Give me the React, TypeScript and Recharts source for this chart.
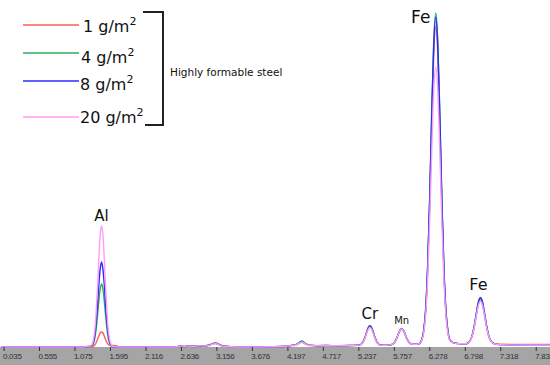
import { LineChart, Line, XAxis, YAxis, ReferenceDot, Label } from 'recharts';

const CHART_W = 550;
const CHART_H = 365;
const AXIS_H = 18;

// energy axis (keV)
const energies = [
  0.0, 0.5, 1.0, 1.2, 1.265, 1.305, 1.325, 1.345, 1.365, 1.385, 1.405, 1.425, 1.445, 1.465,
  1.485, 1.505, 1.525, 1.545, 1.565, 1.585, 1.605, 1.625, 1.68, 1.72, 2.0, 2.3, 2.55, 2.62,
  2.68, 2.75, 2.82, 2.9, 2.96, 3.0, 3.05, 3.1, 3.13, 3.16, 3.2, 3.25, 3.35, 3.6, 4.0, 4.2,
  4.25, 4.3, 4.35, 4.4, 4.45, 4.5, 4.55, 4.65, 4.78, 4.9, 5.05, 5.15, 5.25, 5.275, 5.3,
  5.325, 5.35, 5.375, 5.4, 5.425, 5.45, 5.475, 5.5, 5.525, 5.55, 5.6, 5.66, 5.715, 5.74,
  5.765, 5.79, 5.815, 5.84, 5.865, 5.89, 5.915, 5.94, 5.965, 5.99, 6.015, 6.06, 6.11, 6.155,
  6.185, 6.215, 6.245, 6.275, 6.305, 6.335, 6.365, 6.395, 6.425, 6.455, 6.485, 6.515, 6.545,
  6.575, 6.62, 6.7, 6.78, 6.81, 6.84, 6.87, 6.9, 6.93, 6.96, 6.99, 7.02, 7.05, 7.08, 7.11,
  7.14, 7.17, 7.2, 7.23, 7.3, 7.5, 7.75, 8.04,
];

const coat1 = [
  0, 0, 0, 0, 0.2, 0.3, 0.4, 0.8, 2, 4.2, 7.3, 11, 14, 15,
  14, 11, 7.3, 4.4, 2.6, 1.8, 1.6, 1.5, 1.2, 0.2, 0, 0, 0, 0.8,
  0.3, 0.6, 0.4, 0.8, 1, 1.3, 2.2, 3.6, 4.2, 3.8, 2.2, 1, 0.4, 0, 0.2, 0.8,
  1.4, 1.8, 3.4, 5, 3.4, 1.8, 1.5, 1.2, 1.6, 1.0, 1.3, 1.5, 2, 3, 5.2,
  9.2, 14.4, 19.1, 21, 19.1, 14.4, 9.2, 5.2, 3, 2, 1.6, 1.7, 2.4, 3.2,
  5.1, 8.3, 12.6, 16.4, 18, 16.5, 12.8, 8.5, 5.4, 3.6, 3, 2.8, 3, 6.5,
  14.4, 34, 75, 141, 222, 292, 320, 292, 222, 141, 75, 34, 14.4,
  6.5, 4.2, 3.4, 3.3, 3.3, 4.1, 6.3, 11.4, 20.3, 32.1, 42.7, 47, 42.7, 32.1, 20.3,
  11.4, 6.3, 4.1, 3.3, 2.8, 2.6, 2.6, 2.5,
];

const coat4 = [
  0, 0, 0, 0, 0.3, 0.5, 1.3, 3.5, 8.5, 17.5, 31, 46, 58, 63,
  58, 46, 31, 17.5, 8.5, 3.5, 1.3, 0.4, 0, 0, 0, 0, 0, 0.5,
  0.4, 1, 0.5, 0.7, 1, 1.2, 2, 3.3, 3.8, 3.4, 2, 1, 0.3, 0, 0.2, 1,
  1.6, 2, 3.9, 6, 3.9, 2, 1.6, 1.3, 1.2, 1.1, 1.4, 1.5, 2, 3, 5.3,
  9.4, 14.7, 19.5, 21.5, 19.5, 14.7, 9.4, 5.3, 3, 2, 1.6, 1.7, 2.4, 3.2,
  5.2, 8.5, 12.9, 16.9, 18.5, 17, 13.1, 8.7, 5.5, 3.7, 3, 2.8, 3, 6.6,
  15, 36, 78.5, 147, 232, 305, 334, 305, 232, 147, 78.5, 36, 15,
  6.6, 4.3, 3.4, 3.3, 3.3, 4.1, 6.5, 11.9, 21.3, 33.7, 45, 49.5, 45, 33.7, 21.3,
  11.9, 6.5, 4.1, 3.2, 2.4, 2.2, 2.2, 2.1,
];

const coat8 = [
  0, 0, 0, 0, 0.6, 0.8, 1.7, 4.8, 11.5, 24, 41, 62, 78, 85,
  78, 62, 41, 24, 11.5, 4.8, 1.7, 0.5, 0.2, 0, 0, 0, 0, 1.2,
  0.5, 1.3, 0.8, 1, 1, 1.2, 2, 3.2, 3.6, 3.2, 2, 0.9, 0.4, 0, 0.3, 1,
  1.6, 1.8, 3.4, 5, 3.4, 1.8, 1.6, 1.4, 1.5, 1.2, 1.5, 1.6, 2, 2.9, 5.1,
  9, 14.1, 18.6, 20.5, 18.6, 14.1, 9, 5.1, 2.9, 2, 1.6, 1.8, 2.4, 3.2,
  5.1, 8.3, 12.6, 16.4, 18, 16.5, 12.8, 8.5, 5.4, 3.6, 3, 2.8, 3, 6.6,
  15, 35, 77.5, 145, 229, 301, 330, 301, 229, 145, 77.5, 35, 15,
  6.6, 4.3, 3.4, 3.3, 3.3, 4.1, 6.5, 11.8, 21.1, 33.4, 44.5, 49, 44.5, 33.4, 21.1,
  11.8, 6.5, 4.1, 3.2, 2.4, 2.2, 2.1, 2.1,
];

const coat20 = [
  0, 0, 0, 0, 0.8, 1.0, 2.4, 7, 16, 34, 59, 88, 112, 121,
  112, 88, 59, 34, 16, 7, 2.4, 0.7, 0.2, 0, 0, 0, 0, 1,
  0.8, 1, 0.6, 1.2, 1, 1.1, 1.8, 3, 3.4, 3, 1.8, 0.9, 0.3, 0, 0.2, 1,
  1.5, 1.8, 3.3, 4.8, 3.3, 1.8, 1.5, 1.6, 1.4, 1.3, 1.6, 1.7, 1.9, 2.9, 4.9,
  8.6, 13.4, 17.7, 19.5, 17.7, 13.4, 8.6, 4.9, 2.9, 1.9, 1.6, 1.8, 2.4, 3.2,
  5.1, 8.3, 12.6, 16.4, 18, 16.5, 12.8, 8.5, 5.4, 3.6, 3, 2.8, 3, 6,
  13, 30.4, 66, 123.5, 194, 256, 280, 256, 194, 123.5, 66, 30.4, 13,
  6, 4.2, 3.4, 3.3, 3.3, 4.0, 6.2, 11.2, 19.9, 31.4, 41.8, 46, 41.8, 31.4, 19.9,
  11.2, 6.2, 4.0, 3.2, 2.3, 2.1, 2.0, 2.0,
];

const tickValues = [0.035, 0.555, 1.075, 1.595, 2.116, 2.636, 3.156, 3.676, 4.197, 4.717, 5.237, 5.757, 6.278, 6.798, 7.318, 7.838];

const seriesInfo = [
  { key: 'c1', label: '1', color: '#ff5b5b' },
  { key: 'c4', label: '4', color: '#2eaa5c' },
  { key: 'c8', label: '8', color: '#2b2bff' },
  { key: 'c20', label: '20', color: '#ff9cf5' },
];

const peakLabels = [
  { text: 'Al', keV: 1.465, level: 121, dx: 0, dy: -5, size: 15 },
  { text: 'Cr', keV: 5.4, level: 21.5, dx: 0, dy: -7, size: 15 },
  { text: 'Mn', keV: 5.865, level: 18, dx: 0, dy: -5, size: 10 },
  { text: 'Fe', keV: 6.365, level: 334, dx: -15, dy: 10, size: 17 },
  { text: 'Fe', keV: 7.02, level: 49.5, dx: -2, dy: -8, size: 16 },
];

const groupNote = 'Highly formable steel';

const rows = energies.map((e, i) => ({
  keV: e,
  c1: coat1[i],
  c4: coat4[i],
  c8: coat8[i],
  c20: coat20[i],
}));

const FONT = '"DejaVu Sans", Verdana, sans-serif';

function EnergyTick(props: any) {
  const { x, payload } = props;
  const top = CHART_H - AXIS_H;
  return (
    <g>
      <line x1={x} x2={x} y1={top} y2={top + 4} stroke="#333" strokeWidth={1} />
      <text
        x={x - 1}
        y={top + 12}
        textAnchor="start"
        fontSize={8}
        letterSpacing={-0.3}
        fontFamily='"Liberation Sans", Arial, sans-serif'
        fill="#333"
      >
        {payload.value.toFixed(3)}
      </text>
    </g>
  );
}

// legend positions: line y, text baseline, text x
const legendRows = [
  { lineY: 25, textY: 32, textX: 83 },
  { lineY: 53, textY: 63, textX: 81 },
  { lineY: 81, textY: 90, textX: 80 },
  { lineY: 117, textY: 123, textX: 80 },
];

function CoatingLegend() {
  return (
    <svg width={300} height={135} style={{ display: 'block' }}>
      {seriesInfo.map((s, i) => {
        const r = legendRows[i];
        return (
          <g key={s.key}>
            <line x1={23} x2={79} y1={r.lineY} y2={r.lineY} stroke={s.color} strokeWidth={1.3} />
            <text x={r.textX} y={r.textY} fontSize={16} fontFamily={FONT} fill="#111">
              {s.label} g/m
              <tspan dy={-7} fontSize={11}>2</tspan>
            </text>
          </g>
        );
      })}
      <polyline points="143,12 163,12 163,125 145,125" fill="none" stroke="#222" strokeWidth={2} />
      <text x={170} y={76} fontSize={10.5} fontFamily={FONT} fill="#111">
        {groupNote}
      </text>
    </svg>
  );
}

export default function App() {
  return (
    <div style={{ position: 'relative', width: CHART_W, height: CHART_H, background: '#fff', overflow: 'hidden' }}>
      <style>{'body{margin:0}'}</style>
      <div
        style={{
          position: 'absolute',
          left: 0,
          top: CHART_H - AXIS_H,
          width: CHART_W,
          height: AXIS_H,
          background: '#a5a5a5',
        }}
      />
      <div style={{ position: 'absolute', left: 0, top: 0 }}>
        <LineChart width={CHART_W} height={CHART_H} data={rows} margin={{ top: 0, right: 0, bottom: 0, left: 0 }}>
          <XAxis
            dataKey="keV"
            type="number"
            domain={[-0.024, 8.04]}
            ticks={tickValues}
            height={AXIS_H}
            axisLine={false}
            tickLine={false}
            tick={<EnergyTick />}
            interval={0}
          />
          <YAxis hide domain={[0, CHART_H - AXIS_H]} />
          {seriesInfo.map((s) => (
            <Line
              key={s.key}
              dataKey={s.key}
              type="monotone"
              stroke={s.color}
              strokeWidth={1.4}
              dot={false}
              activeDot={false}
              isAnimationActive={false}
            />
          ))}
          {peakLabels.map((p, i) => (
            <ReferenceDot key={i} x={p.keV} y={p.level} r={1} fill="none" stroke="none">
              <Label
                content={(lp: any) => {
                  const vb = lp.viewBox || {};
                  const cx = (vb.x ?? 0) + (vb.width ?? 0) / 2;
                  const cy = (vb.y ?? 0) + (vb.height ?? 0) / 2;
                  return (
                    <text
                      x={cx + p.dx}
                      y={cy + p.dy}
                      textAnchor="middle"
                      fontSize={p.size}
                      fontFamily={FONT}
                      fill="#111"
                    >
                      {p.text}
                    </text>
                  );
                }}
              />
            </ReferenceDot>
          ))}
        </LineChart>
      </div>
      <div style={{ position: 'absolute', left: 0, top: 0 }}>
        <CoatingLegend />
      </div>
    </div>
  );
}
